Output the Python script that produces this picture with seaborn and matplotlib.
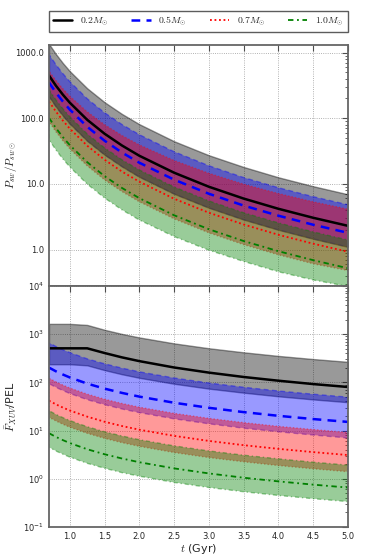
import matplotlib
matplotlib.use("Agg")
import matplotlib.pyplot as plt
import pandas as pd
import seaborn as sns
from matplotlib.ticker import FormatStrFormatter, NullFormatter, LogLocator

t_gyr = [0.7, 0.8, 0.9, 1.0, 1.25, 1.5, 1.75, 2.0, 2.5, 3.0, 3.5, 4.0, 4.5, 5.0]

mass_labels = [r"$0.2M_{\odot}$", r"$0.5M_{\odot}$", r"$0.7M_{\odot}$", r"$1.0M_{\odot}$"]
mass_colors = ["k", "b", "r", "g"]
mass_styles = ["-", (0, (3.5, 2.5)), (0, (1, 1.5)), (0, (3, 2, 1, 2))]
mass_widths = [1.8, 1.8, 1.3, 1.3]

# --- top panel: stellar wind pressure, P_sw / P_sw,sun ---
psw_02 = [447, 312, 228, 172, 94.5, 58.0, 38.4, 26.8, 14.8, 9.05, 5.98, 4.18, 3.05, 2.30]
psw_02_hi = [1350, 944, 689, 519, 285, 175, 116, 81.0, 44.6, 27.3, 18.1, 12.6, 9.22, 6.95]
psw_02_lo = [214, 150, 109, 82.3, 45.2, 27.8, 18.4, 12.8, 7.06, 4.33, 2.86, 2.00, 1.46, 1.10]

psw_05 = [350, 245, 179, 135, 74.0, 45.4, 30.0, 21.0, 11.6, 7.08, 4.68, 3.28, 2.39, 1.80]
psw_05_hi = [935, 654, 477, 360, 198, 121, 80.2, 56.1, 30.9, 18.9, 12.5, 8.75, 6.39, 4.82]
psw_05_lo = [214, 150, 109, 82.3, 45.2, 27.8, 18.4, 12.8, 7.06, 4.33, 2.86, 2.00, 1.46, 1.10]

psw_07 = [180, 126, 91.8, 69.2, 38.1, 23.3, 15.4, 10.8, 5.94, 3.64, 2.41, 1.68, 1.23, 0.927]
psw_07_hi = [519, 374, 280, 216, 125, 79.6, 54.5, 39.2, 22.7, 14.5, 9.90, 7.13, 5.34, 4.12]
psw_07_lo = [89, 62.2, 45.4, 34.2, 18.8, 11.5, 7.64, 5.34, 2.94, 1.80, 1.19, 0.833, 0.608, 0.480]

psw_10 = [101, 70.6, 51.5, 38.8, 21.4, 13.1, 8.67, 6.06, 3.33, 2.04, 1.35, 0.945, 0.690, 0.520]
psw_10_hi = [272, 190, 139, 105, 57.5, 35.3, 23.3, 16.3, 8.98, 5.51, 3.64, 2.55, 1.86, 1.40]
psw_10_lo = [47, 32.9, 24.0, 18.1, 9.94, 6.10, 4.03, 2.82, 1.58, 0.98, 0.66, 0.46, 0.345, 0.275]

# --- bottom panel: mean XUV flux relative to the present Earth level ---
fxuv_02 = [507, 507, 507, 507, 507, 405, 329, 275, 203, 159, 129, 108, 92, 80]
fxuv_02_hi = [1630, 1630, 1630, 1630, 1549, 1228, 1009, 852, 642, 509, 419, 353, 304, 266]
fxuv_02_lo = [237, 237, 237, 237, 225, 179, 147, 124, 93.4, 74.0, 61.0, 51.3, 44.2, 38.7]

fxuv_05 = [202, 169, 145, 126, 94.0, 73.9, 60.3, 50.5, 37.7, 29.6, 24.1, 20.2, 17.3, 15.1]
fxuv_05_hi = [661, 554, 475, 413, 307, 242, 197, 165, 123, 96.8, 79.0, 66.2, 56.7, 49.3]
fxuv_05_lo = [94, 78.8, 67.5, 58.7, 43.7, 34.4, 28.0, 23.5, 17.5, 13.8, 11.2, 9.42, 8.07, 7.01]

fxuv_07 = [41.6, 34.9, 29.9, 26.0, 19.4, 15.2, 12.4, 10.4, 7.75, 6.09, 4.97, 4.17, 3.57, 3.10]
fxuv_07_hi = [122, 102, 87.6, 76.2, 56.8, 44.6, 36.4, 30.5, 22.7, 17.9, 14.6, 12.2, 10.5, 9.10]
fxuv_07_lo = [18.8, 15.8, 13.5, 11.7, 8.75, 6.88, 5.61, 4.70, 3.50, 2.75, 2.25, 1.88, 1.61, 1.40]

fxuv_10 = [8.8, 7.37, 6.32, 5.50, 4.09, 3.22, 2.63, 2.20, 1.64, 1.29, 1.05, 0.882, 0.755, 0.656]
fxuv_10_hi = [25.8, 21.6, 18.5, 16.1, 12.0, 9.43, 7.70, 6.46, 4.81, 3.78, 3.08, 2.59, 2.21, 1.92]
fxuv_10_lo = [4.5, 3.77, 3.23, 2.81, 2.09, 1.65, 1.34, 1.13, 0.839, 0.659, 0.538, 0.451, 0.386, 0.336]


def panel_frame(lines, his, los):
    rows = []
    for i, lab in enumerate(mass_labels):
        for t, y, hi, lo in zip(t_gyr, lines[i], his[i], los[i]):
            rows.append({"t": t, "y": y, "hi": hi, "lo": lo, "mass": lab})
    return pd.DataFrame(rows)


def draw_panel(ax, df):
    """Shaded range for each mass, then the central track on top."""
    for lab, c, ls in zip(mass_labels, mass_colors, mass_styles):
        d = df[df["mass"] == lab]
        ax.fill_between(d["t"], d["lo"], d["hi"], facecolor=c, edgecolor=c,
                        alpha=0.4, linestyle=ls, lw=1.0)
    for lab, c, ls, lw in zip(mass_labels, mass_colors, mass_styles, mass_widths):
        d = df[df["mass"] == lab]
        sns.lineplot(data=d, x="t", y="y", ax=ax, color=c, linestyle=ls, lw=lw,
                     label=lab, legend=False)


def style_axes(ax):
    ax.set_yscale("log")
    ax.set_xlim(0.7, 5.0)
    ax.grid(True, which="major", ls=":", lw=0.6, color="0.6")
    ax.tick_params(which="both", direction="in", top=True, right=True,
                   labelsize=6, color="0.3")
    ax.tick_params(which="major", length=4)
    ax.tick_params(which="minor", length=2)
    for sp in ax.spines.values():
        sp.set_color("0.4")
        sp.set_linewidth(1.3)


sns.set_style("white")
plt.rcParams["mathtext.fontset"] = "cm"

fig, (ax_top, ax_bot) = plt.subplots(2, 1, figsize=(3.74, 5.6), dpi=100, sharex=True)
fig.subplots_adjust(left=0.131, right=0.93, top=0.92, bottom=0.059, hspace=0)

top_df = panel_frame([psw_02, psw_05, psw_07, psw_10],
                     [psw_02_hi, psw_05_hi, psw_07_hi, psw_10_hi],
                     [psw_02_lo, psw_05_lo, psw_07_lo, psw_10_lo])
bot_df = panel_frame([fxuv_02, fxuv_05, fxuv_07, fxuv_10],
                     [fxuv_02_hi, fxuv_05_hi, fxuv_07_hi, fxuv_10_hi],
                     [fxuv_02_lo, fxuv_05_lo, fxuv_07_lo, fxuv_10_lo])

draw_panel(ax_top, top_df)
draw_panel(ax_bot, bot_df)

style_axes(ax_top)
ax_top.set_ylim(0.28, 1310)
ax_top.yaxis.set_major_locator(LogLocator(base=10))
ax_top.yaxis.set_major_formatter(FormatStrFormatter("%.1f"))
ax_top.yaxis.set_minor_formatter(NullFormatter())
ax_top.set_ylabel(r"$P_{sw}/P_{sw\odot}$", fontsize=8)
ax_top.yaxis.set_label_coords(-0.10, 0.5)
ax_top.set_xlabel("")
ax_top.tick_params(labelbottom=False)

style_axes(ax_bot)
ax_bot.set_ylim(0.1, 1e4)
ax_bot.set_xticks([1.0, 1.5, 2.0, 2.5, 3.0, 3.5, 4.0, 4.5, 5.0])
ax_bot.xaxis.set_major_formatter(FormatStrFormatter("%.1f"))
ax_bot.set_ylabel(r"$\bar{F}_{XUV}$/PEL", fontsize=8)
ax_bot.yaxis.set_label_coords(-0.10, 0.5)
ax_bot.set_xlabel(r"$t$ (Gyr)", fontsize=8, labelpad=1)

handles, labels = ax_top.get_legend_handles_labels()
leg = ax_top.legend(handles, labels, loc="lower left", bbox_to_anchor=(0, 1.054, 1, 0.075),
                    ncol=4, mode="expand", borderaxespad=0, fontsize=7,
                    fancybox=False, frameon=True, handlelength=2.0)
leg.get_frame().set_edgecolor("0.2")
leg.get_frame().set_linewidth(1.0)

fig.savefig("out.png", dpi=100)
